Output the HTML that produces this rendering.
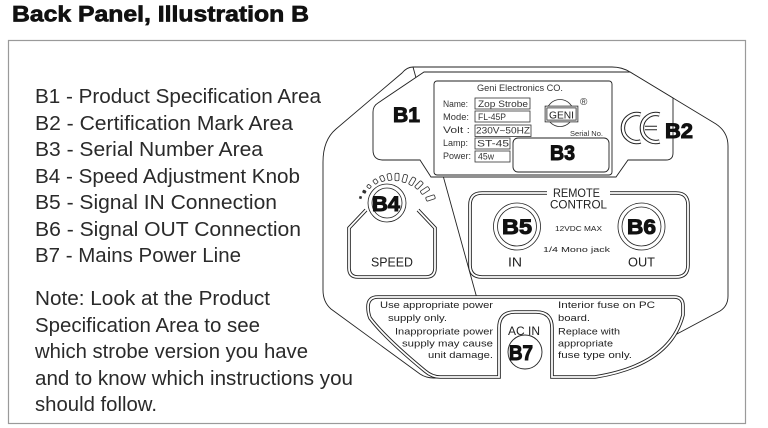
<!DOCTYPE html>
<html><head><meta charset="utf-8"><style>
html,body{margin:0;padding:0;background:#fff;}
svg{display:block;}
text{font-family:"Liberation Sans",sans-serif;}
</style></head><body>
<svg width="768" height="428" viewBox="0 0 768 428" xmlns="http://www.w3.org/2000/svg">
<rect width="768" height="428" fill="#fff"/>
<!-- Title -->
<text x="12" y="21.5" font-size="22" font-weight="700" fill="#111" stroke="#111" stroke-width="0.7" textLength="297" lengthAdjust="spacingAndGlyphs">Back Panel, Illustration B</text>
<!-- frame -->
<rect x="8.5" y="40.5" width="737" height="383" fill="none" stroke="#9a9a9a" stroke-width="1.2"/>

<!-- list -->
<g font-size="20" fill="#2a2a2a">
<text x="35" y="103" textLength="286" lengthAdjust="spacingAndGlyphs">B1 - Product Specification Area</text>
<text x="35" y="130" textLength="258" lengthAdjust="spacingAndGlyphs">B2 - Certification Mark Area</text>
<text x="35" y="156" textLength="228" lengthAdjust="spacingAndGlyphs">B3 - Serial Number Area</text>
<text x="35" y="183" textLength="265" lengthAdjust="spacingAndGlyphs">B4 - Speed Adjustment Knob</text>
<text x="35" y="209" textLength="242" lengthAdjust="spacingAndGlyphs">B5 - Signal IN Connection</text>
<text x="35" y="236" textLength="266" lengthAdjust="spacingAndGlyphs">B6 - Signal OUT Connection</text>
<text x="35" y="262" textLength="206" lengthAdjust="spacingAndGlyphs">B7 - Mains Power Line</text>
<text x="35" y="305" textLength="235" lengthAdjust="spacingAndGlyphs">Note: Look at the Product</text>
<text x="35" y="332" textLength="225" lengthAdjust="spacingAndGlyphs">Specification Area to see</text>
<text x="35" y="358" textLength="273" lengthAdjust="spacingAndGlyphs">which strobe version you have</text>
<text x="35" y="385" textLength="318" lengthAdjust="spacingAndGlyphs">and to know which instructions you</text>
<text x="35" y="411" textLength="122" lengthAdjust="spacingAndGlyphs">should follow.</text>
</g>

<!-- body outline -->
<path d="M413,67 L612,67 Q622,67 630,72 L716,124 Q728,132 728,146 L728,296 Q728,306 720,311 L600,375 Q594,378 585,378 L552,378 M499,378 L434,378 Q426,378 420,374 L331,309 Q323,302 323,290 L323,162 Q323,140 336,129 L402,73 Q407,67 413,67 Z" fill="none" stroke="#222" stroke-width="0.9"/>

<!-- B1/B2 region -->
<path d="M424,72 L630,72 L673,98 L673,153 Q673,160 666,160 L628,160 L616,177 L431,177 L420,160 L383,160 Q373,160 373,150 L373,112 Q373,106 378,103 Z" fill="#fff" stroke="#222" stroke-width="0.9"/>

<!-- spec plate -->
<rect x="434" y="81" width="178" height="94" rx="3" fill="#fff" stroke="#222" stroke-width="0.9"/>
<g font-size="9" fill="#333">
<text x="477" y="91" textLength="86" lengthAdjust="spacingAndGlyphs">Geni Electronics CO.</text>
<text x="443" y="107" textLength="25" lengthAdjust="spacingAndGlyphs">Name:</text>
<text x="443" y="120" textLength="26" lengthAdjust="spacingAndGlyphs">Mode:</text>
<text x="443" y="133" textLength="27" lengthAdjust="spacingAndGlyphs">Volt  :</text>
<text x="443" y="146" textLength="25" lengthAdjust="spacingAndGlyphs">Lamp:</text>
<text x="443" y="159" textLength="28" lengthAdjust="spacingAndGlyphs">Power:</text>
<text x="478" y="107" textLength="50" lengthAdjust="spacingAndGlyphs">Zop Strobe</text>
<text x="478" y="120" textLength="28" lengthAdjust="spacingAndGlyphs">FL-45P</text>
<text x="476" y="133.5" textLength="54" lengthAdjust="spacingAndGlyphs">230V~50HZ</text>
<text x="477" y="146.5" textLength="32" lengthAdjust="spacingAndGlyphs">ST-45</text>
<text x="478" y="159.5" textLength="16" lengthAdjust="spacingAndGlyphs">45w</text>
<text x="570" y="136" font-size="7" textLength="33" lengthAdjust="spacingAndGlyphs">Serial No.</text>
<text x="580" y="105" font-size="10">®</text>
</g>
<g fill="none" stroke="#333" stroke-width="0.8">
<rect x="475" y="98" width="55" height="11"/>
<rect x="475" y="111" width="55" height="11"/>
<rect x="475" y="125" width="56" height="11.5"/>
<rect x="475" y="138" width="35" height="11"/>
<rect x="475" y="151" width="35" height="11"/>
</g>
<!-- GENI logo -->
<circle cx="560" cy="113" r="13.5" fill="none" stroke="#333" stroke-width="0.8"/>
<rect x="546" y="107" width="31" height="14" fill="#fff" stroke="#222" stroke-width="2.6"/>
<rect x="546" y="107" width="31" height="14" fill="none" stroke="#fff" stroke-width="1"/>
<text x="549" y="118.5" font-size="10" fill="#222" textLength="25" lengthAdjust="spacingAndGlyphs">GENI</text>
<!-- B3 box -->
<rect x="513" y="138" width="96" height="34" rx="5" fill="#fff" stroke="#222" stroke-width="0.9"/>

<!-- CE mark -->
<g fill="none" stroke-linecap="butt">
<path d="M640.6,114.5 A14,14 0 1 0 640.6,141.5 M659.6,114.5 A14,14 0 1 0 659.6,141.5 M645,128 L657,128" stroke="#222" stroke-width="4.4"/>
<path d="M640.6,114.5 A14,14 0 1 0 640.6,141.5 M659.6,114.5 A14,14 0 1 0 659.6,141.5 M645,128 L657,128" stroke="#fff" stroke-width="2.4"/>
</g>

<!-- SPEED housing (double) -->
<path d="M366,210 L349,228 L349,268 Q349,277 358,277 L426,277 Q435,277 435,268 L435,228 L418,210" fill="#fff" stroke="#222" stroke-width="3.6"/>
<path d="M366,210 L349,228 L349,268 Q349,277 358,277 L426,277 Q435,277 435,268 L435,228 L418,210" fill="none" stroke="#fff" stroke-width="1.8"/>
<!-- knob -->
<circle cx="387" cy="203" r="19" fill="#fff" stroke="#222" stroke-width="0.8"/>
<circle cx="387" cy="203" r="15" fill="none" stroke="#222" stroke-width="0.8"/>
<g fill="#fff" stroke="#333" stroke-width="0.8">
<rect x="-0.9" y="-0.9" width="1.8" height="1.8" transform="translate(360.5,197.5) rotate(-73)" fill="#333"/>
<rect x="-1.2" y="-1.5" width="2.4" height="3" rx="0.6" transform="translate(364.3,191.7) rotate(-63)" fill="#333"/>
<rect x="-1.5" y="-1.9" width="3" height="3.8" rx="0.9" transform="translate(369,186.5) rotate(-52)"/>
<rect x="-1.8" y="-2.3" width="3.6" height="4.6" rx="1" transform="translate(375.5,181.5) rotate(-38)"/>
<rect x="-1.9" y="-2.9" width="3.8" height="5.8" rx="1.2" transform="translate(382.3,178.5) rotate(-25)"/>
<rect x="-2" y="-3.4" width="4" height="6.8" rx="1.2" transform="translate(389.5,177) rotate(-12)"/>
<rect x="-2" y="-3.7" width="4" height="7.4" rx="1.2" transform="translate(397,177) rotate(1)"/>
<rect x="-2" y="-4" width="4" height="8" rx="1.2" transform="translate(404.8,178.5) rotate(16)"/>
<rect x="-2" y="-4.2" width="4" height="8.4" rx="1.2" transform="translate(412.3,181.3) rotate(31)"/>
<rect x="-2" y="-4.4" width="4" height="8.8" rx="1.2" transform="translate(419,185) rotate(44)"/>
<rect x="-2" y="-4.6" width="4" height="9.2" rx="1.2" transform="translate(425,190.5) rotate(57)"/>
<rect x="-2" y="-4.6" width="4" height="9.2" rx="1.2" transform="translate(430.5,198) rotate(72)"/>
</g>
<text x="371" y="266.5" font-size="13" fill="#222" textLength="42" lengthAdjust="spacingAndGlyphs">SPEED</text>

<!-- Remote panel (double) -->
<path d="M547,193 L482,193 Q470,193 470,205 L470,265 Q470,277 482,277 L676,277 Q688,277 688,265 L688,205 Q688,193 676,193 L610,193" fill="#fff" stroke="#222" stroke-width="3.6"/>
<path d="M547,193 L482,193 Q470,193 470,205 L470,265 Q470,277 482,277 L676,277 Q688,277 688,265 L688,205 Q688,193 676,193 L610,193" fill="none" stroke="#fff" stroke-width="1.8"/>
<g fill="#222">
<text x="553" y="197" font-size="12" textLength="47" lengthAdjust="spacingAndGlyphs">REMOTE</text>
<text x="550" y="208.5" font-size="12" textLength="57" lengthAdjust="spacingAndGlyphs">CONTROL</text>
<text x="555" y="231" font-size="7.5" textLength="47" lengthAdjust="spacingAndGlyphs">12VDC MAX</text>
<text x="543" y="252" font-size="7.5" textLength="67" lengthAdjust="spacingAndGlyphs">1/4 Mono jack</text>
<text x="508" y="266.5" font-size="13" textLength="14" lengthAdjust="spacingAndGlyphs">IN</text>
<text x="628" y="266.5" font-size="13" textLength="27" lengthAdjust="spacingAndGlyphs">OUT</text>
</g>
<g fill="none" stroke="#222" stroke-width="0.8">
<circle cx="517" cy="226.5" r="23.5"/>
<circle cx="517" cy="226.5" r="19.5"/>
<circle cx="641.5" cy="226.5" r="23.5"/>
<circle cx="641.5" cy="226.5" r="19.5"/>
</g>

<!-- Warning panel (double) -->
<path d="M378,297 L674,297 Q683,297 683,306 L683,315 Q670,365 595,377 L552,377 L552,328 Q552,312 536,312 L515,312 Q499,312 499,328 L499,377 L440,377 Q432,377 425,371 Q385,338 370,318 Q368,313 368,307 Q368,297 378,297 Z" fill="#fff" stroke="#222" stroke-width="3.6"/>
<path d="M378,297 L674,297 Q683,297 683,306 L683,315 Q670,365 595,377 L552,377 L552,328 Q552,312 536,312 L515,312 Q499,312 499,328 L499,377 L440,377 Q432,377 425,371 Q385,338 370,318 Q368,313 368,307 Q368,297 378,297 Z" fill="none" stroke="#fff" stroke-width="1.8"/>
<g font-size="9.5" fill="#222">
<text x="380" y="308" textLength="113" lengthAdjust="spacingAndGlyphs">Use appropriate power</text>
<text x="388" y="321" textLength="59" lengthAdjust="spacingAndGlyphs">supply only.</text>
<text x="395" y="334.5" textLength="98" lengthAdjust="spacingAndGlyphs">Inappropriate power</text>
<text x="402" y="346.5" textLength="91" lengthAdjust="spacingAndGlyphs">supply may cause</text>
<text x="428" y="358" textLength="65" lengthAdjust="spacingAndGlyphs">unit damage.</text>
<text x="558" y="308" textLength="97" lengthAdjust="spacingAndGlyphs">Interior fuse on PC</text>
<text x="558" y="321" textLength="32" lengthAdjust="spacingAndGlyphs">board.</text>
<text x="558" y="334.5" textLength="62" lengthAdjust="spacingAndGlyphs">Replace with</text>
<text x="558" y="346.5" textLength="55" lengthAdjust="spacingAndGlyphs">appropriate</text>
<text x="558" y="358" textLength="74" lengthAdjust="spacingAndGlyphs">fuse type only.</text>
<text x="508" y="335" font-size="12" textLength="32" lengthAdjust="spacingAndGlyphs">AC IN</text>
</g>
<circle cx="525" cy="352" r="17" fill="#fff" stroke="#222" stroke-width="0.9"/>

<!-- bold labels -->
<g font-size="21" font-weight="700" fill="#111" stroke="#111" stroke-width="1">
<text x="393" y="122" textLength="27" lengthAdjust="spacingAndGlyphs">B1</text>
<text x="665" y="138" textLength="28" lengthAdjust="spacingAndGlyphs">B2</text>
<text x="550" y="160" textLength="25" lengthAdjust="spacingAndGlyphs">B3</text>
<text x="372" y="211" textLength="28" lengthAdjust="spacingAndGlyphs">B4</text>
<text x="502" y="234" textLength="30" lengthAdjust="spacingAndGlyphs">B5</text>
<text x="627" y="234" textLength="29" lengthAdjust="spacingAndGlyphs">B6</text>
<text x="509" y="360" textLength="24" lengthAdjust="spacingAndGlyphs">B7</text>
</g>
</svg>
</body></html>
